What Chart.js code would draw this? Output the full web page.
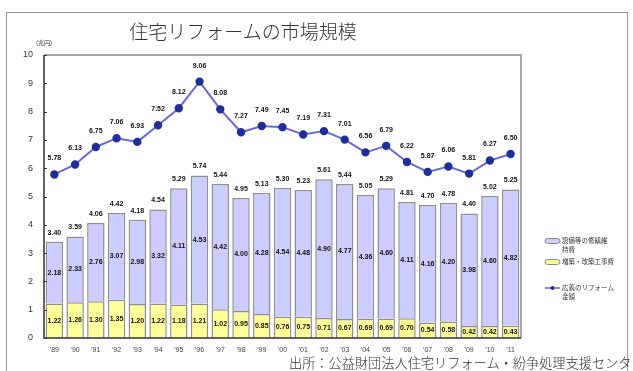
<!DOCTYPE html>
<html>
<head>
<meta charset="utf-8">
<script src="https://cdn.jsdelivr.net/npm/chart.js@4.4.1/dist/chart.umd.min.js"></script>
<style>
  html, body { margin: 0; padding: 0; background: #fff; overflow: hidden; }
  #wrap { position: relative; width: 633px; height: 371px; }
  #frame { position: absolute; left: 6px; top: 12px; width: 620px; height: 400px; border: 1.5px solid #9a9a9a; }
  #title { position: absolute; left: 0; top: 18px; width: 486px; text-align: center; line-height: 26px;
           font-family: "Noto Sans CJK JP", sans-serif; font-weight: 300; font-size: 19px; color: #333; }
  #unit { position: absolute; left: 36px; top: 38px; font-family: "Noto Sans CJK JP", sans-serif; font-size: 6px; color: #333; }
  #source { position: absolute; left: 289px; top: 355px; white-space: nowrap; line-height: 16px;
            font-family: "Noto Sans CJK JP", sans-serif; font-weight: 300; font-size: 13.2px; color: #333; }
  canvas { position: absolute; left: 0; top: 0; }
</style>
</head>
<body>
<div id="wrap">
  <div id="frame"></div>
  <canvas id="myChart" width="633" height="371"></canvas>
  <div id="title">住宅リフォームの市場規模</div>
  <div id="unit">(兆円)</div>
  <div id="source">出所：公益財団法人住宅リフォーム・紛争処理支援センター</div>
</div>
<script>
const years = ["'89", "'90", "'91", "'92", "'93", "'94", "'95", "'96", "'97", "'98", "'99", "'00",
               "'01", "'02", "'03", "'04", "'05", "'06", "'07", "'08", "'09", "'10", "'11"];
// 増築・改築工事費
const extension = [1.22, 1.26, 1.30, 1.35, 1.20, 1.22, 1.18, 1.21, 1.02, 0.95, 0.85, 0.76,
                   0.75, 0.71, 0.67, 0.69, 0.69, 0.70, 0.54, 0.58, 0.42, 0.42, 0.43];
// 設備等の修繕維持費
const repair = [2.18, 2.33, 2.76, 3.07, 2.98, 3.32, 4.11, 4.53, 4.42, 4.00, 4.28, 4.54,
                4.48, 4.90, 4.77, 4.36, 4.60, 4.11, 4.16, 4.20, 3.98, 4.60, 4.82];
const totals = [3.40, 3.59, 4.06, 4.42, 4.18, 4.54, 5.29, 5.74, 5.44, 4.95, 5.13, 5.30,
                5.23, 5.61, 5.44, 5.05, 5.29, 4.81, 4.70, 4.78, 4.40, 5.02, 5.25];
// 広義のリフォーム金額
const broad = [5.78, 6.13, 6.75, 7.06, 6.93, 7.52, 8.12, 9.06, 8.08, 7.27, 7.49, 7.45,
               7.19, 7.31, 7.01, 6.56, 6.79, 6.22, 5.87, 6.06, 5.81, 6.27, 6.50];
const yTicks = [0, 1, 2, 3, 4, 5, 6, 7, 8, 9, 10];

const valueFont = 'bold 7px "Liberation Sans", Arial, sans-serif';

const overlay = {
  id: 'overlay',
  beforeDatasetsDraw(chart) {
    const ctx = chart.ctx, a = chart.chartArea;
    ctx.save();
    ctx.strokeStyle = '#a8a8a8';
    ctx.lineWidth = 2;
    ctx.beginPath();
    ctx.moveTo(a.left, a.top);
    ctx.lineTo(a.right, a.top);
    ctx.lineTo(a.right, a.bottom);
    ctx.stroke();
    ctx.restore();
  },
  afterDatasetsDraw(chart) {
    const ctx = chart.ctx, a = chart.chartArea;
    const y = chart.scales.y;
    ctx.save();
    // axes
    ctx.strokeStyle = '#333';
    ctx.lineWidth = 1.5;
    ctx.beginPath();
    ctx.moveTo(a.left, a.top);
    ctx.lineTo(a.left, a.bottom);
    ctx.lineTo(a.right, a.bottom);
    ctx.stroke();
    ctx.lineWidth = 1;
    yTicks.forEach(t => {
      const py = Math.round(y.getPixelForValue(t)) + 0.5;
      ctx.beginPath();
      ctx.moveTo(a.left, py);
      ctx.lineTo(a.left + 3, py);
      ctx.stroke();
    });

    ctx.font = valueFont;
    ctx.fillStyle = '#111';
    ctx.textAlign = 'center';
    ctx.textBaseline = 'middle';
    // segment values
    [0, 1].forEach(d => {
      const meta = chart.getDatasetMeta(d);
      meta.data.forEach((el, i) => {
        const v = chart.data.datasets[d].data[i];
        ctx.fillText(v.toFixed(2), el.x, (el.y + el.base) / 2);
      });
    });
    // totals above bars
    chart.getDatasetMeta(1).data.forEach((el, i) => {
      ctx.fillText(totals[i].toFixed(2), el.x, el.y - 9);
    });
    // line values
    chart.getDatasetMeta(2).data.forEach((pt, i) => {
      ctx.fillText(broad[i].toFixed(2), pt.x, pt.y - 16);
    });

    // legend
    const lx = 545, rows = [
      { ds: 1, y: 241 },
      { ds: 0, y: 262 },
      { ds: 2, y: 288 }
    ];
    ctx.font = '6.5px "Noto Sans CJK JP", sans-serif';
    ctx.textAlign = 'left';
    rows.forEach(r => {
      const ds = chart.data.datasets[r.ds];
      if (ds.type === 'line') {
        ctx.strokeStyle = ds.borderColor;
        ctx.lineWidth = 1.5;
        ctx.beginPath();
        ctx.moveTo(lx, r.y);
        ctx.lineTo(lx + 15, r.y);
        ctx.stroke();
        ctx.fillStyle = ds.pointBackgroundColor;
        ctx.beginPath();
        ctx.arc(lx + 7.5, r.y, 2, 0, Math.PI * 2);
        ctx.fill();
      } else {
        ctx.fillStyle = ds.backgroundColor;
        ctx.strokeStyle = '#8a8a8a';
        ctx.lineWidth = 1;
        ctx.beginPath();
        ctx.roundRect(lx, r.y - 2.5, 15, 5, 2.5);
        ctx.fill();
        ctx.stroke();
      }
      ctx.fillStyle = '#333';
      ds.legendLines.forEach((line, k) => {
        ctx.fillText(line, lx + 17, r.y + k * 9);
      });
    });
    ctx.restore();
  }
};

new Chart(document.getElementById('myChart'), {
  type: 'bar',
  data: {
    labels: years,
    datasets: [
      {
        label: '増築・改築工事費',
        legendLines: ['増築・改築工事費'],
        data: extension,
        backgroundColor: '#FFFF99',
        borderColor: '#8f8f8f',
        borderWidth: 1.5,
        stack: 'bars',
        order: 1,
        barPercentage: 0.84,
        categoryPercentage: 1
      },
      {
        label: '設備等の修繕維持費',
        legendLines: ['設備等の修繕維', '持費'],
        data: repair,
        backgroundColor: '#CCCCFF',
        borderColor: '#8f8f8f',
        borderWidth: 1.5,
        stack: 'bars',
        order: 1,
        barPercentage: 0.84,
        categoryPercentage: 1
      },
      {
        type: 'line',
        label: '広義のリフォーム金額',
        legendLines: ['広義のリフォーム', '金額'],
        data: broad,
        stack: 'line',
        borderColor: '#6b6bd2',
        borderWidth: 2,
        pointBackgroundColor: '#1f2f99',
        pointBorderColor: '#1f2f99',
        pointRadius: 3.2,
        tension: 0,
        order: 0
      }
    ]
  },
  options: {
    responsive: false,
    animation: false,
    devicePixelRatio: 1,
    layout: { padding: { left: 0, top: 55, right: 112, bottom: 0 } },
    plugins: { legend: { display: false }, tooltip: { enabled: false } },
    scales: {
      x: {
        stacked: true,
        grid: { display: false, drawTicks: false },
        border: { display: false },
        ticks: { padding: 8, color: '#444', font: { size: 7, family: 'Liberation Sans' }, maxRotation: 0 },
        afterFit(scale) { scale.height = 33; }
      },
      y: {
        stacked: true,
        min: 0,
        max: 10,
        grid: { display: false, drawTicks: false },
        border: { display: false },
        ticks: { stepSize: 1, padding: 11, color: '#333', font: { size: 9, family: 'Liberation Sans' } },
        afterFit(scale) { scale.width = 44; }
      }
    }
  },
  plugins: [overlay]
});
</script>
</body>
</html>
